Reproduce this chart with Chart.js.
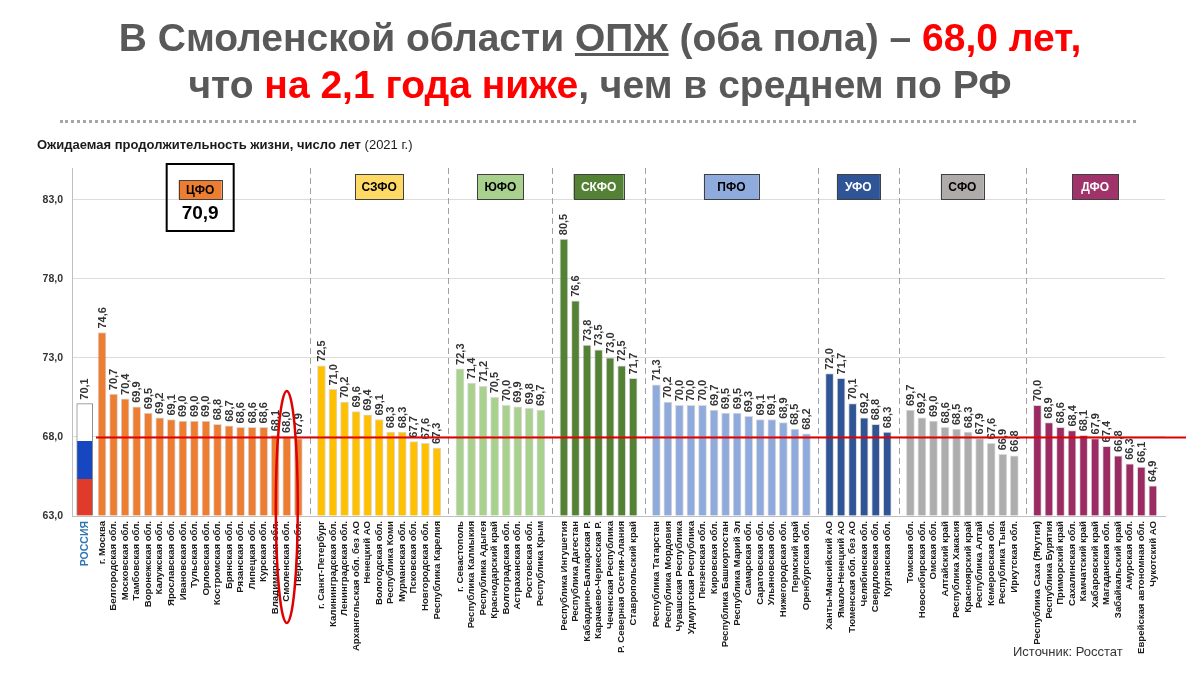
<!DOCTYPE html>
<html>
<head>
<meta charset="utf-8">
<script src="https://cdn.jsdelivr.net/npm/chart.js@4.4.1/dist/chart.umd.min.js"></script>
<style>
  body { margin: 0; background: #fff; font-family: "Liberation Sans", Arial, sans-serif; }
  #wrap { position: relative; width: 1200px; height: 675px; overflow: hidden; }
  #chart { position: absolute; left: 0; top: 0; }
  .title { position: absolute; left: 0; width: 1200px; text-align: center; font-weight: bold;
           font-size: 39px; line-height: 44px; color: #595959; }
  .red { color: #ff0000; }
  #dots { position: absolute; left: 60px; top: 120px; width: 1076px; border-top: 3px dotted #a6a6a6; }
  #sub { position: absolute; left: 37px; top: 137px; font-size: 13px; color: #1a1a1a; }
  #src { position: absolute; left: 1013px; top: 644px; font-size: 13px; color: #333; }
</style>
</head>
<body>
<div id="wrap">
  <canvas id="chart" width="1200" height="675"></canvas>
  <div class="title" style="top:16px">В Смоленской области <u>ОПЖ</u> (оба пола) – <span class="red">68,0 лет,</span></div>
  <div class="title" style="top:63px">что <span class="red">на 2,1 года ниже</span>, чем в среднем по РФ</div>
  <div id="dots"></div>
  <div id="sub"><b>Ожидаемая продолжительность жизни, число лет</b> (2021 г.)</div>
  <div id="src">Источник: Росстат</div>
</div>
<script>
// --- data ---
const yTicks = [63, 68, 73, 78, 83];
const russiaLabel = 'РОССИЯ';
const russiaValue = 70.1;
const cfoAverage = 70.9;
const highlightLabel = 'Смоленская обл.';

const districtNames = ['ЦФО', 'СЗФО', 'ЮФО', 'СКФО', 'ПФО', 'УФО', 'СФО', 'ДФО'];

const cfoLabels = ['г. Москва', 'Белгородская обл.', 'Московская обл.', 'Тамбовская обл.', 'Воронежская обл.',
  'Калужская обл.', 'Ярославская обл.', 'Ивановская обл.', 'Тульская обл.', 'Орловская обл.',
  'Костромская обл.', 'Брянская обл.', 'Рязанская обл.', 'Липецкая обл.', 'Курская обл.',
  'Владимирская обл.', 'Смоленская обл.', 'Тверская обл.'];
const cfoValues = [74.6, 70.7, 70.4, 69.9, 69.5, 69.2, 69.1, 69.0, 69.0, 69.0, 68.8, 68.7, 68.6, 68.6, 68.6, 68.1, 68.0, 67.9];

const szfoLabels = ['г. Санкт-Петербург', 'Калининградская обл.', 'Ленинградская обл.', 'Архангельская обл. без АО',
  'Ненецкий АО', 'Вологодская обл.', 'Республика Коми', 'Мурманская обл.', 'Псковская обл.',
  'Новгородская обл.', 'Республика Карелия'];
const szfoValues = [72.5, 71.0, 70.2, 69.6, 69.4, 69.1, 68.3, 68.3, 67.7, 67.6, 67.3];

const yufoLabels = ['г. Севастополь', 'Республика Калмыкия', 'Республика Адыгея', 'Краснодарский край',
  'Волгоградская обл.', 'Астраханская обл.', 'Ростовская обл.', 'Республика Крым'];
const yufoValues = [72.3, 71.4, 71.2, 70.5, 70.0, 69.9, 69.8, 69.7];

const skfoLabels = ['Республика Ингушетия', 'Республика Дагестан', 'Кабардино-Балкарская Р.', 'Карачаево-Черкесская Р.',
  'Чеченская Республика', 'Р. Северная Осетия-Алания', 'Ставропольский край'];
const skfoValues = [80.5, 76.6, 73.8, 73.5, 73.0, 72.5, 71.7];

const pfoLabels = ['Республика Татарстан', 'Республика Мордовия', 'Чувашская Республика', 'Удмуртская Республика',
  'Пензенская обл.', 'Кировская обл.', 'Республика Башкортостан', 'Республика Марий Эл', 'Самарская обл.',
  'Саратовская обл.', 'Ульяновская обл.', 'Нижегородская обл.', 'Пермский край', 'Оренбургская обл.'];
const pfoValues = [71.3, 70.2, 70.0, 70.0, 70.0, 69.7, 69.5, 69.5, 69.3, 69.1, 69.1, 68.9, 68.5, 68.2];

const ufoLabels = ['Ханты-Мансийский АО', 'Ямало-Ненецкий АО', 'Тюменская обл. без АО', 'Челябинская обл.',
  'Свердловская обл.', 'Курганская обл.'];
const ufoValues = [72.0, 71.7, 70.1, 69.2, 68.8, 68.3];

const sfoLabels = ['Томская обл.', 'Новосибирская обл.', 'Омская обл.', 'Алтайский край', 'Республика Хакасия',
  'Красноярский край', 'Республика Алтай', 'Кемеровская обл.', 'Республика Тыва', 'Иркутская обл.'];
const sfoValues = [69.7, 69.2, 69.0, 68.6, 68.5, 68.3, 67.9, 67.6, 66.9, 66.8];

const dfoLabels = ['Республика Саха (Якутия)', 'Республика Бурятия', 'Приморский край', 'Сахалинская обл.',
  'Камчатский край', 'Хабаровский край', 'Магаданская обл.', 'Забайкальский край', 'Амурская обл.',
  'Еврейская автономная обл.', 'Чукотский АО'];
const dfoValues = [70.0, 68.9, 68.6, 68.4, 68.1, 67.9, 67.4, 66.8, 66.3, 66.1, 64.9];

// --- styles ---
const barColors = ['#ED7D31', '#FFC000', '#A9D18E', '#548235', '#8FAADC', '#2F5597', '#ADADAD', '#9C2B63'];
const headColors = ['#ED7D31', '#FFD966', '#A9D18E', '#548235', '#8FAADC', '#2F5597', '#AFABAB', '#A0336A'];
const headText = ['#000', '#000', '#000', '#fff', '#000', '#fff', '#000', '#fff'];
const headWidths = [43, 48, 46, 50, 55, 43, 43, 46];
const FONT = '"Liberation Sans", Arial, sans-serif';

const groupLabels = [cfoLabels, szfoLabels, yufoLabels, skfoLabels, pfoLabels, ufoLabels, sfoLabels, dfoLabels];
const groupValues = [cfoValues, szfoValues, yufoValues, skfoValues, pfoValues, ufoValues, sfoValues, dfoValues];

// positions along the x axis: one empty slot between districts
const russiaPos = -1.5;
const xTickValues = [russiaPos];
const xTickLabels = [russiaLabel];
const separators = [];
const groupRanges = [];
let pos = 0;
const datasets = [];
groupLabels.forEach((labels, g) => {
  const start = pos;
  const data = groupValues[g].map((v, i) => {
    xTickValues.push(pos);
    xTickLabels.push(labels[i]);
    return { x: pos++, y: v };
  });
  groupRanges.push([start, pos - 1]);
  if (g < groupLabels.length - 1) separators.push(pos++);
  datasets.push({
    data: data,
    backgroundColor: barColors[g],
    borderColor: 'rgba(0,0,0,0.15)',
    borderWidth: 1,
    barThickness: 8,
    grouped: false,
    base: yTicks[0]
  });
});
const lastPos = pos - 1;

datasets.unshift({
  data: [{ x: russiaPos, y: russiaValue }],
  backgroundColor: (c) => {
    const chart = c.chart;
    if (!chart.chartArea) return '#fff';
    const ys = chart.scales.y;
    const y0 = ys.getPixelForValue(yTicks[0]);
    const y1 = ys.getPixelForValue(russiaValue);
    const gr = chart.ctx.createLinearGradient(0, y0, 0, y1);
    gr.addColorStop(0, '#E03A2B'); gr.addColorStop(1 / 3, '#E03A2B');
    gr.addColorStop(1 / 3, '#1646C0'); gr.addColorStop(2 / 3, '#1646C0');
    gr.addColorStop(2 / 3, '#ffffff'); gr.addColorStop(1, '#ffffff');
    return gr;
  },
  borderColor: '#8c8c8c',
  borderWidth: 1,
  barThickness: 16,
  grouped: false,
  base: yTicks[0]
});

const fmt = (v) => v.toFixed(1).replace('.', ',');

const overlay = {
  id: 'overlay',
  beforeDatasetsDraw(chart) {
    const { ctx, chartArea: a, scales: { x } } = chart;
    ctx.save();
    ctx.strokeStyle = '#a0a0a0';
    ctx.lineWidth = 1;
    ctx.setLineDash([6, 4]);
    separators.forEach((p) => {
      const px = Math.round(x.getPixelForValue(p)) + 0.5;
      ctx.beginPath(); ctx.moveTo(px, a.top); ctx.lineTo(px, a.bottom); ctx.stroke();
    });
    ctx.restore();
  },
  afterDatasetsDraw(chart) {
    const { ctx, scales: { x, y } } = chart;
    ctx.save();
    // value labels
    ctx.fillStyle = '#333';
    ctx.font = 'bold 11px ' + FONT;
    ctx.textAlign = 'left';
    ctx.textBaseline = 'middle';
    chart.data.datasets.forEach((ds, i) => {
      chart.getDatasetMeta(i).data.forEach((bar, j) => {
        ctx.save();
        ctx.translate(bar.x + 0.5, bar.y - 4);
        ctx.rotate(-Math.PI / 2);
        ctx.fillText(fmt(ds.data[j].y), 0, 0);
        ctx.restore();
      });
    });
    // red reference line at Smolensk value
    const hIdx = cfoLabels.indexOf(highlightLabel);
    const hy = Math.round(y.getPixelForValue(cfoValues[hIdx])) + 0.5;
    ctx.strokeStyle = '#e00000';
    ctx.lineWidth = 2;
    ctx.beginPath(); ctx.moveTo(96, hy); ctx.lineTo(1186, hy); ctx.stroke();
    // ellipse around Smolensk
    const hx = x.getPixelForValue(groupRanges[0][0] + hIdx);
    ctx.lineWidth = 2.5;
    ctx.beginPath(); ctx.ellipse(hx, 507, 11, 116, 0, 0, Math.PI * 2); ctx.stroke();
    // district headers
    groupRanges.forEach((r, g) => {
      const cx = (x.getPixelForValue(r[0]) + x.getPixelForValue(r[1])) / 2;
      const w = headWidths[g];
      const top = g === 0 ? 180 : 174;
      const h = g === 0 ? 19 : 25;
      if (g === 0) {
        ctx.strokeStyle = '#000'; ctx.lineWidth = 2;
        ctx.strokeRect(cx - 33.5, 164, 67, 67);
        ctx.fillStyle = '#000';
        ctx.font = 'bold 19px ' + FONT;
        ctx.textAlign = 'center';
        ctx.fillText(fmt(cfoAverage), cx, 214);
      }
      ctx.fillStyle = headColors[g];
      ctx.fillRect(cx - w / 2, top, w, h);
      ctx.strokeStyle = '#404040'; ctx.lineWidth = 1;
      ctx.strokeRect(Math.round(cx - w / 2) + 0.5, top + 0.5, w, h);
      ctx.fillStyle = headText[g];
      ctx.font = 'bold 12px ' + FONT;
      ctx.textAlign = 'center';
      ctx.fillText(districtNames[g], cx, top + h / 2 + 1);
    });
    ctx.restore();
  }
};

new Chart(document.getElementById('chart'), {
  type: 'bar',
  data: { datasets: datasets },
  options: {
    responsive: false,
    animation: false,
    layout: { padding: { left: 0, right: 35, top: 168, bottom: 20 } },
    plugins: { legend: { display: false }, tooltip: { enabled: false } },
    scales: {
      x: {
        type: 'linear',
        offset: false,
        min: -2.6,
        max: lastPos + 1.05,
        afterBuildTicks: (s) => { s.ticks = xTickValues.map((v) => ({ value: v })); },
        afterFit: (s) => { s.height = 139; },
        grid: { display: false, drawTicks: false },
        border: { display: true, color: '#bfbfbf' },
        ticks: {
          autoSkip: false,
          minRotation: 90,
          maxRotation: 90,
          padding: 5,
          callback: (v, i) => xTickLabels[i],
          color: (c) => (c.index === 0 ? '#2E75B6' : '#1a1a1a'),
          font: (c) => (c.index === 0 ? { family: FONT, size: 10.5, weight: 'bold' } : { family: FONT, size: 9.6, weight: 'bold' })
        }
      },
      y: {
        min: yTicks[0],
        max: 85,
        afterBuildTicks: (s) => { s.ticks = yTicks.map((v) => ({ value: v })); },
        afterFit: (s) => { s.width = 72; },
        grid: { color: '#dcdcdc', drawTicks: false },
        border: { display: true, color: '#bfbfbf' },
        ticks: {
          padding: 9,
          color: '#333',
          font: { family: FONT, size: 10.5, weight: 'bold' },
          callback: (v) => fmt(v)
        }
      }
    }
  },
  plugins: [overlay]
});
</script>
</body>
</html>
